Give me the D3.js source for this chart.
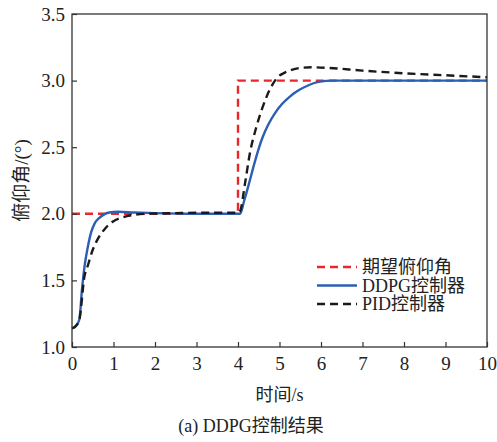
<!DOCTYPE html>
<html>
<head>
<meta charset="utf-8">
<script src="https://cdn.jsdelivr.net/npm/d3@7"></script>
<style>
  body { margin: 0; background: #fff; }
  text { font-family: "Liberation Serif", "Noto Sans CJK SC", serif; fill: #222; }
</style>
</head>
<body>
<div id="plot-container"></div>
<script>
// data
var xTicks = [0, 1, 2, 3, 4, 5, 6, 7, 8, 9, 10];
var yTicks = [1.0, 1.5, 2.0, 2.5, 3.0, 3.5];

var refT = [0, 4, 4, 10];
var refY = [2, 2, 3, 3];

var ddpgT = [0, 0.1, 0.18, 0.24, 0.3, 0.34, 0.4, 0.46, 0.55, 0.66, 0.8, 0.9, 1.1, 1.5, 2, 3, 4, 4.05, 4.15, 4.25, 4.37, 4.49, 4.6, 4.73, 4.9, 5.05, 5.25, 5.45, 5.7, 5.94, 6.3, 7, 8, 9, 10];
var ddpgY = [1.14, 1.16, 1.21, 1.43, 1.6, 1.68, 1.78, 1.86, 1.93, 1.97, 2.0, 2.01, 2.015, 2.01, 2.005, 2.0, 2.0, 2.0, 2.1, 2.21, 2.35, 2.48, 2.58, 2.67, 2.76, 2.82, 2.88, 2.925, 2.965, 2.99, 3.0, 3.0, 3.0, 3.0, 3.0];

var pidT = [0, 0.1, 0.18, 0.3, 0.38, 0.5, 0.62, 0.8, 0.98, 1.3, 1.78, 2.5, 3, 3.5, 4, 4.05, 4.17, 4.29, 4.45, 4.57, 4.69, 4.83, 4.97, 5.13, 5.29, 5.5, 5.8, 6.2, 7, 8, 9, 10];
var pidY = [1.14, 1.16, 1.21, 1.53, 1.61, 1.73, 1.81, 1.89, 1.94, 1.98, 2.0, 2.005, 2.008, 2.008, 2.008, 2.02, 2.23, 2.46, 2.66, 2.78, 2.88, 2.97, 3.03, 3.06, 3.08, 3.095, 3.10, 3.095, 3.075, 3.055, 3.04, 3.025];

var legendNames = ["期望俯仰角", "DDPG控制器", "PID控制器"];

// plot parameters
var W = 497, H = 442;
var padL = 72, padR = 487, padT = 14, padB = 347;

var x = d3.scaleLinear().domain([0, 10]).range([padL, padR]);
var y = d3.scaleLinear().domain([1, 3.5]).range([padB, padT]);

var svg = d3.select("#plot-container")
            .append("svg")
            .attr("width", W)
            .attr("height", H);

function zip(ts, ys) {
  return ts.map(function(t, i){ return [t, ys[i]]; });
}

var line = d3.line()
             .x(function(d){ return x(d[0]); })
             .y(function(d){ return y(d[1]); });
var smooth = d3.line()
               .x(function(d){ return x(d[0]); })
               .y(function(d){ return y(d[1]); })
               .curve(d3.curveMonotoneX);

// series
svg.append("path")
   .attr("d", line(zip(refT, refY)))
   .attr("fill", "none")
   .attr("stroke", "#e8262b")
   .attr("stroke-width", 2.4)
   .attr("stroke-dasharray", "8,5");

svg.append("path")
   .attr("d", smooth(zip(ddpgT, ddpgY)))
   .attr("fill", "none")
   .attr("stroke", "#2c5fb3")
   .attr("stroke-width", 2.4);

svg.append("path")
   .attr("d", smooth(zip(pidT, pidY)))
   .attr("fill", "none")
   .attr("stroke", "#1a1a1a")
   .attr("stroke-width", 2.4)
   .attr("stroke-dasharray", "8,5");

// axes (ticks inward)
var xAxis = svg.append("g")
               .attr("transform", "translate(0," + padB + ")")
               .call(d3.axisBottom(x).tickValues(xTicks).tickSizeInner(-5).tickSizeOuter(0).tickPadding(10).tickFormat(d3.format("d")));
var yAxis = svg.append("g")
               .attr("transform", "translate(" + padL + ",0)")
               .call(d3.axisLeft(y).tickValues(yTicks).tickSizeInner(-5).tickSizeOuter(0).tickPadding(7).tickFormat(d3.format(".1f")));

[xAxis, yAxis].forEach(function(g){
  g.select(".domain").remove();
  g.selectAll("line").attr("stroke", "#333").attr("stroke-width", 1.2);
  g.selectAll("text").attr("font-size", 19).attr("fill", "#222")
   .style("font-family", "'Liberation Serif', serif");
});

// frame
svg.append("rect")
   .attr("x", padL).attr("y", padT)
   .attr("width", padR - padL).attr("height", padB - padT)
   .attr("fill", "none")
   .attr("stroke", "#333")
   .attr("stroke-width", 1.3);

// legend
var legColors = ["#e8262b", "#2c5fb3", "#1a1a1a"];
var legDash = ["8,5", null, "8,5"];
var leg = svg.append("g");
legendNames.forEach(function(name, i){
  var ly = 267 + i * 18.5;
  leg.append("line")
     .attr("x1", 317).attr("x2", 357)
     .attr("y1", ly).attr("y2", ly)
     .attr("stroke", legColors[i])
     .attr("stroke-width", 2.4)
     .attr("stroke-dasharray", legDash[i]);
  leg.append("text")
     .attr("x", 362).attr("y", ly + 6)
     .attr("font-size", 18)
     .text(name);
});

// labels
svg.append("text")
   .attr("x", (padL + padR) / 2).attr("y", 401)
   .attr("text-anchor", "middle")
   .attr("font-size", 18)
   .text("时间/s");

svg.append("text")
   .attr("transform", "translate(28," + ((padT + padB) / 2) + ") rotate(-90)")
   .attr("text-anchor", "middle")
   .attr("font-size", 19)
   .text("俯仰角/(°)");

svg.append("text")
   .attr("x", 251).attr("y", 432)
   .attr("text-anchor", "middle")
   .attr("font-size", 18)
   .text("(a) DDPG控制结果");
</script>
</body>
</html>
